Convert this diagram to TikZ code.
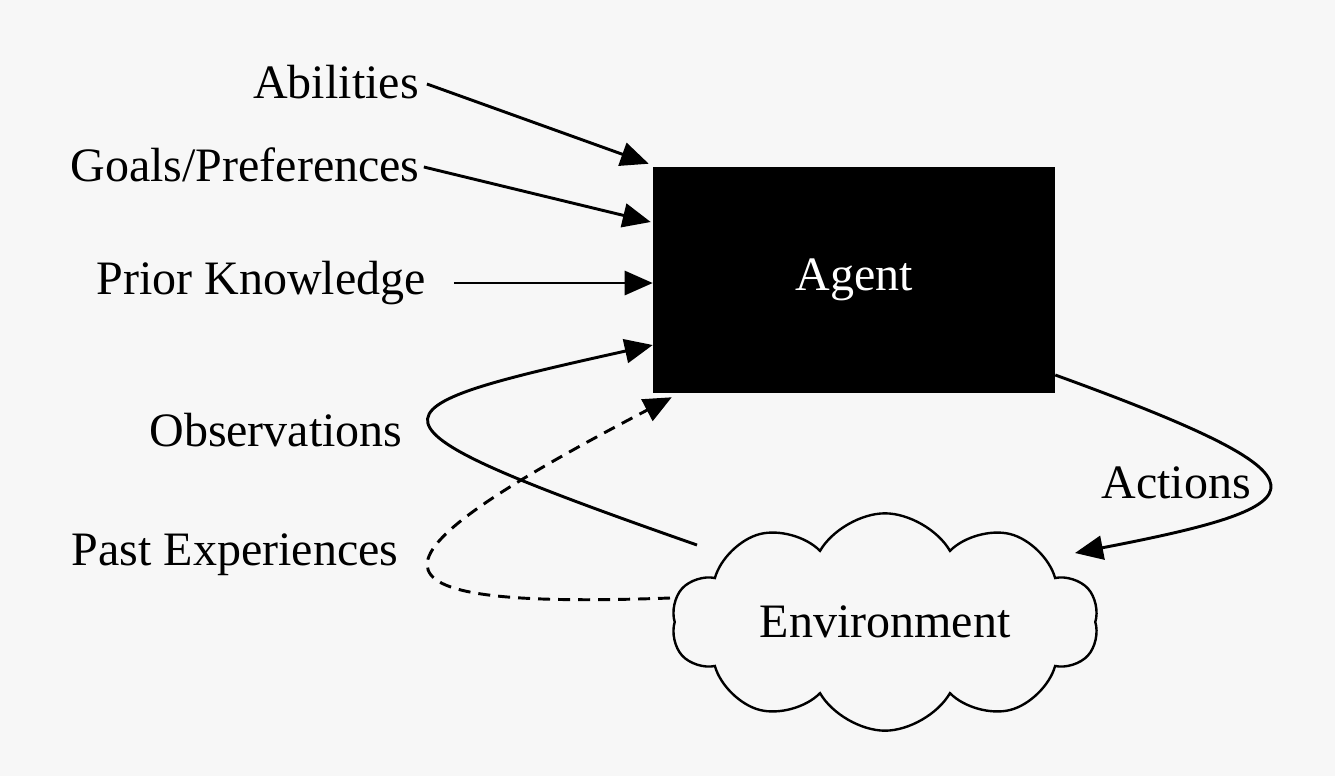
\documentclass[tikz,border=0pt]{standalone}
\usepackage{fontspec}
\setmainfont{Liberation Serif}
\usetikzlibrary{shapes.symbols,arrows.meta,calc}
\definecolor{bgc}{RGB}{247,247,247}
\begin{document}
\begin{tikzpicture}[x=0.75pt,y=-0.75pt,
  lbl/.style={font=\fontsize{36}{40}\selectfont, inner sep=0pt},
  arr/.style={line width=2.2pt, -{Triangle[length=21pt,width=18pt]}},
  agentbox/.style={fill=black, text=white, minimum width=301.5pt, minimum height=169.5pt, inner sep=0pt, font=\fontsize{36}{40}\selectfont},
  envcloud/.style={cloud, draw, line width=1.8pt, cloud puffs=10, cloud puff arc=120, cloud ignores aspect, minimum width=320pt, minimum height=163pt, inner sep=0pt, font=\fontsize{36}{40}\selectfont}]
\fill[bgc] (0,0) rectangle (1335,776);
\useasboundingbox (0,0) rectangle (1335,776);

\node[agentbox] (agent) at (854,280) {Agent};
\node[envcloud] (env) at (885,622) {Environment};

\node[lbl] (abil) at (336,82) {Abilities};
\node[lbl] (goals) at (245,165) {Goals/Preferences};
\node[lbl] (prior) at (261,283) {Prior Knowledge};
\node[lbl] (obs) at (276,430) {Observations};
\node[lbl] (past) at (235,555) {Past Experiences};
\node[lbl] (act) at (1176,483) {Actions};

\draw[arr] ($(abil.east)+(8,2)$) -- ($(agent.north west)+(-4,-3)$);
\draw[arr] ($(goals.east)+(4,2)$) -- ($(agent.west)+(-2,-58)$);
\draw[arr] ($(prior.east)+(28,0)$) -- ($(agent.west)+(0,3)$);
\draw[arr] ($(env.center)+(-188,-77)$) .. controls (340,420) and (360,410) .. ($(agent.west)+(0,65)$);
\draw[arr, dash pattern=on 9pt off 6pt] ($(env.center)+(-215,-24)$) .. controls (340,610) and (360,560) .. ($(agent.south west)+(19,4)$);
\draw[arr] ($(agent.east)+(0,95)$) .. controls (1345,480) and (1325,505) .. ($(env.center)+(190,-69)$);
\end{tikzpicture}
\end{document}
